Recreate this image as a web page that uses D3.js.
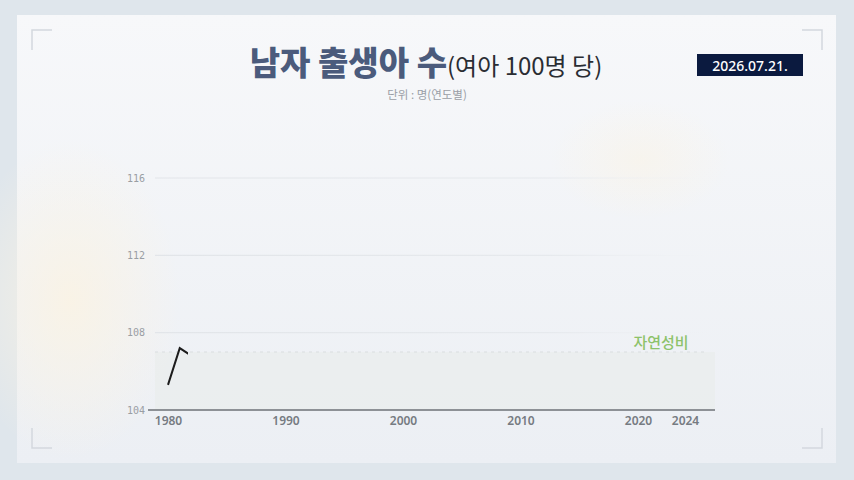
<!DOCTYPE html>
<html>
<head>
<meta charset="utf-8">
<script src="https://cdn.jsdelivr.net/npm/d3@7"></script>
<style>
  body { margin: 0; background: #dfe6ec; }
  svg { display: block; font-family: "Noto Sans CJK KR", "Noto Sans", sans-serif; }
</style>
</head>
<body>
<div id="chart"></div>
<script>
// data
const years = [1980, 1981, 1982];
const ratio = [105.3, 107.2, 106.8];
const xTicks = [1980, 1990, 2000, 2010, 2020, 2024];
const yTicks = [104, 108, 112, 116];
const naturalRatio = 107;
const drawnUntil = 1981.7; // line is still animating in the frame

const width = 854;
const height = 480;

const svg = d3
  .select("#chart")
  .append("svg")
  .attr("width", width)
  .attr("height", height);

const defs = svg.append("defs");

// panel background gradient
const panelGrad = defs.append("linearGradient").attr("id", "panelGrad")
  .attr("x1", 0).attr("y1", 0).attr("x2", 0).attr("y2", 1);
panelGrad.append("stop").attr("offset", "0%").attr("stop-color", "#f7f8fa");
panelGrad.append("stop").attr("offset", "100%").attr("stop-color", "#eceff4");

const warm = defs.append("radialGradient").attr("id", "warm");
warm.append("stop").attr("offset", "0%").attr("stop-color", "#fbf3e2").attr("stop-opacity", 0.8);
warm.append("stop").attr("offset", "100%").attr("stop-color", "#fbf3e2").attr("stop-opacity", 0);

const gridGrad = defs.append("linearGradient").attr("id", "gridGrad")
  .attr("gradientUnits", "userSpaceOnUse")
  .attr("x1", 155).attr("x2", 715);
gridGrad.append("stop").attr("offset", "0%").attr("stop-color", "#e2e5e9");
gridGrad.append("stop").attr("offset", "70%").attr("stop-color", "#e6e9ed");
gridGrad.append("stop").attr("offset", "100%").attr("stop-color", "#eef0f3").attr("stop-opacity", 0);

svg.append("rect").attr("width", width).attr("height", height).attr("fill", "#dfe6ec");
svg.append("rect")
  .attr("x", 17).attr("y", 15).attr("width", 819).attr("height", 448)
  .attr("fill", "url(#panelGrad)");
svg.append("ellipse").attr("cx", 70).attr("cy", 300).attr("rx", 110).attr("ry", 160)
  .attr("fill", "url(#warm)");
svg.append("ellipse").attr("cx", 640).attr("cy", 160).attr("rx", 90).attr("ry", 60)
  .attr("fill", "url(#warm)").attr("opacity", 0.6);

// corner brackets
const corners = [
  { x: 32, y: 30, dx: 1, dy: 1 },
  { x: 822, y: 30, dx: -1, dy: 1 },
  { x: 32, y: 448, dx: 1, dy: -1 },
  { x: 822, y: 448, dx: -1, dy: -1 },
];
corners.forEach((c) => {
  svg.append("path")
    .attr("d", `M${c.x + c.dx * 20},${c.y} L${c.x},${c.y} L${c.x},${c.y + c.dy * 20}`)
    .attr("fill", "none")
    .attr("stroke", "#d3d8de")
    .attr("stroke-width", 1.5);
});

// scales
const x = d3.scaleLinear().domain([1980, 2024]).range([168, 685]);
const y = d3.scaleLinear().domain([104, 116]).range([410, 178]);

// gridlines
svg.append("g")
  .selectAll("line")
  .data(yTicks.filter((d) => d > 104))
  .enter()
  .append("line")
  .attr("x1", 155)
  .attr("x2", 715)
  .attr("y1", (d) => y(d))
  .attr("y2", (d) => y(d))
  .attr("stroke", "url(#gridGrad)")
  .attr("stroke-width", 1.2);

// natural ratio band + dashed line
svg.append("rect")
  .attr("x", 155)
  .attr("y", y(naturalRatio))
  .attr("width", 560)
  .attr("height", y(104) - y(naturalRatio))
  .attr("fill", "#e6ece6")
  .attr("opacity", 0.4);

svg.append("line")
  .attr("x1", 155)
  .attr("x2", 705)
  .attr("y1", y(naturalRatio))
  .attr("y2", y(naturalRatio))
  .attr("stroke", "#dadde0")
  .attr("stroke-width", 1.2)
  .attr("stroke-dasharray", "3,4");

svg.append("text")
  .attr("x", 661)
  .attr("y", y(naturalRatio) - 4)
  .attr("text-anchor", "middle")
  .style("font-size", "15px")
  .style("font-weight", 500)
  .attr("fill", "#8dc26a")
  .text("자연성비");

// y tick labels
svg.append("g")
  .selectAll("text")
  .data(yTicks)
  .enter()
  .append("text")
  .attr("x", 145)
  .attr("y", (d) => y(d))
  .attr("dy", "0.35em")
  .attr("text-anchor", "end")
  .style("font-family", "'DejaVu Sans Mono', monospace")
  .style("font-size", "10px")
  .attr("fill", "#9a9ea4")
  .text((d) => d);

// x axis
const xAxis = svg.append("g")
  .attr("transform", `translate(0,${y(104)})`)
  .call(d3.axisBottom(x).tickValues(xTicks).tickFormat(d3.format("d")).tickSize(0).tickPadding(6));
xAxis.select(".domain").remove();
xAxis.append("line")
  .attr("x1", 148).attr("x2", 715)
  .attr("stroke", "#8d9196").attr("stroke-width", 2);
xAxis.selectAll("text")
  .style("font-family", "'Noto Sans', sans-serif")
  .style("font-size", "12px")
  .style("font-weight", 600)
  .attr("fill", "#767b82");

// line (clipped to current animation progress)
defs.append("clipPath").attr("id", "progress")
  .append("rect")
  .attr("x", 0).attr("y", 0)
  .attr("width", x(drawnUntil)).attr("height", height);

const line = d3.line()
  .x((d, i) => x(years[i]))
  .y((d) => y(d));

svg.append("path")
  .datum(ratio)
  .attr("d", line)
  .attr("clip-path", "url(#progress)")
  .attr("fill", "none")
  .attr("stroke", "#1c1c1c")
  .attr("stroke-width", 2);

// title
const title = svg.append("text")
  .attr("x", 426)
  .attr("y", 75)
  .attr("text-anchor", "middle");
title.append("tspan")
  .style("font-size", "33px")
  .style("font-weight", 900)
  .attr("fill", "#4b5b7c")
  .text("남자 출생아 수");
title.append("tspan")
  .style("font-size", "24px")
  .style("font-weight", 400)
  .attr("fill", "#2a2d33")
  .text("(여아 100명 당)");

svg.append("text")
  .attr("x", 427)
  .attr("y", 99)
  .attr("text-anchor", "middle")
  .style("font-size", "11.5px")
  .attr("fill", "#9a9ea6")
  .text("단위 : 명(연도별)");

// date box
svg.append("rect")
  .attr("x", 697).attr("y", 54).attr("width", 106).attr("height", 22)
  .attr("fill", "#0b1a3f");
svg.append("text")
  .attr("x", 750).attr("y", 70.5)
  .attr("text-anchor", "middle")
  .style("font-family", "'Noto Sans', sans-serif")
  .style("font-size", "14px")
  .style("font-weight", 500)
  .attr("fill", "#ffffff")
  .text("2026.07.21.");
</script>
</body>
</html>
